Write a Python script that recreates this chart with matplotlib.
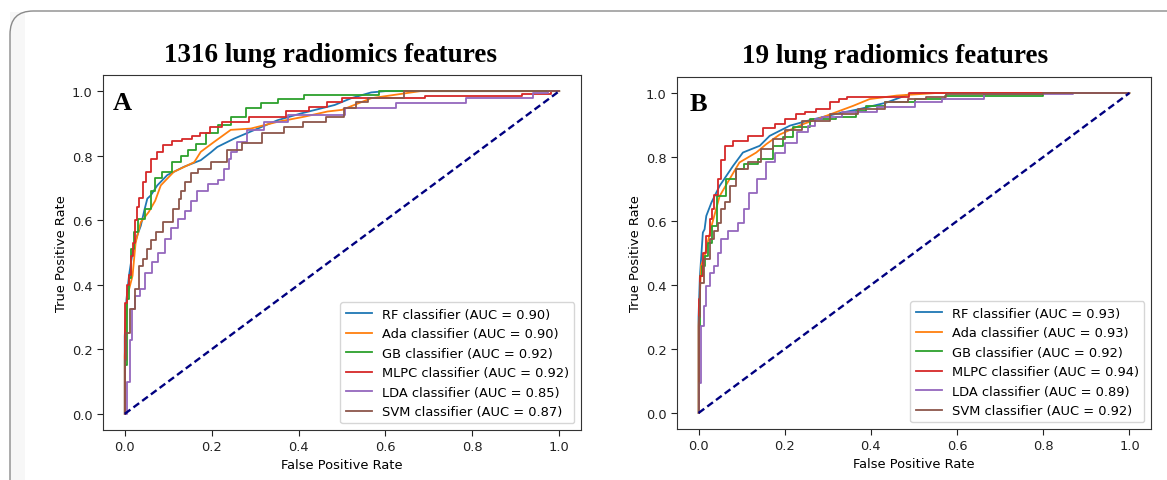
import matplotlib.pyplot as plt
from matplotlib.patches import FancyBboxPatch, Rectangle

plt.rcParams['font.family'] = ['DejaVu Sans']
plt.rcParams['font.size'] = 9.4

names = ['RF', 'Ada', 'GB', 'MLPC', 'LDA', 'SVM']
colors = ['#1f77b4', '#ff7f0e', '#2ca02c', '#d62728', '#9467bd', '#8c564b']
titles = ['1316 lung radiomics features', '19 lung radiomics features']
panel_tags = ['A', 'B']
auc_a = [0.90, 0.90, 0.92, 0.92, 0.85, 0.87]
auc_b = [0.93, 0.93, 0.92, 0.94, 0.89, 0.92]

# ---- 1316 features ----
rf_a_fpr = [0, 0.0, 0.004, 0.01, 0.018, 0.028, 0.037, 0.045, 0.052, 0.06, 0.075, 0.098, 0.137, 0.175,
            0.198, 0.213, 0.252, 0.306, 0.352, 0.406, 0.483, 0.521, 0.567, 0.6, 1.0]
rf_a_tpr = [0, 0.24, 0.355, 0.43, 0.50, 0.55, 0.583, 0.63, 0.667, 0.677, 0.708, 0.74, 0.766, 0.786,
            0.81, 0.827, 0.853, 0.884, 0.91, 0.931, 0.957, 0.978, 0.996, 1.0, 1.0]
ada_a_fpr = [0, 0.0, 0.006, 0.018, 0.025, 0.037, 0.055, 0.07, 0.083, 0.113, 0.16, 0.175, 0.206, 0.244,
             0.29, 0.352, 0.414, 0.467, 0.5, 0.567, 0.68, 1.0]
ada_a_tpr = [0, 0.178, 0.365, 0.428, 0.53, 0.594, 0.625, 0.66, 0.708, 0.75, 0.78, 0.812, 0.843, 0.88,
             0.884, 0.905, 0.921, 0.937, 0.942, 0.978, 1.0, 1.0]
gb_a_fpr = [0, 0.003, 0.008, 0.012, 0.017, 0.025, 0.037, 0.055, 0.065, 0.075, 0.098, 0.121, 0.14, 0.152,
            0.175, 0.198, 0.229, 0.26, 0.298, 0.329, 0.375, 0.452, 0.72, 1.0]
gb_a_tpr = [0, 0.15, 0.355, 0.42, 0.51, 0.563, 0.604, 0.636, 0.69, 0.73, 0.75, 0.78, 0.80, 0.817,
            0.835, 0.869, 0.895, 0.921, 0.947, 0.962, 0.975, 0.987, 1.0, 1.0]
mlpc_a_fpr = [0, 0, 0.003, 0.008, 0.012, 0.016, 0.02, 0.025, 0.03, 0.037, 0.045, 0.055, 0.068, 0.08,
              0.098, 0.12, 0.144, 0.165, 0.183, 0.21, 0.237, 0.336, 0.406, 0.44, 0.49, 0.51, 0.87, 0.96, 1.0]
mlpc_a_tpr = [0, 0.18, 0.345, 0.40, 0.43, 0.49, 0.53, 0.60, 0.64, 0.67, 0.72, 0.75, 0.79, 0.81,
              0.833, 0.845, 0.853, 0.862, 0.869, 0.89, 0.905, 0.921, 0.937, 0.952, 0.967, 0.978, 0.986, 0.99, 1.0]
lda_a_fpr = [0, 0.009, 0.014, 0.018, 0.029, 0.04, 0.055, 0.07, 0.085, 0.1, 0.115, 0.131, 0.145, 0.158,
             0.175, 0.206, 0.221, 0.237, 0.243, 0.248, 0.267, 0.298, 0.344, 0.406, 0.61, 0.64, 0.93, 0.95, 1.0]
lda_a_tpr = [0, 0.1, 0.23, 0.324, 0.365, 0.386, 0.438, 0.47, 0.50, 0.542, 0.575, 0.604, 0.63, 0.66,
             0.69, 0.713, 0.724, 0.76, 0.79, 0.812, 0.843, 0.88, 0.905, 0.926, 0.947, 0.963, 0.978, 0.994, 1.0]
svm_a_fpr = [0, 0.0, 0.008, 0.018, 0.029, 0.037, 0.046, 0.055, 0.066, 0.078, 0.1, 0.122, 0.126, 0.135,
             0.144, 0.16, 0.175, 0.221, 0.252, 0.29, 0.344, 0.39, 0.429, 0.498, 0.513, 0.551, 0.567, 0.72, 1.0]
svm_a_tpr = [0, 0.168, 0.252, 0.324, 0.386, 0.459, 0.48, 0.51, 0.54, 0.563, 0.594, 0.636, 0.667, 0.69,
             0.72, 0.745, 0.76, 0.781, 0.817, 0.838, 0.869, 0.89, 0.905, 0.921, 0.947, 0.967, 0.98, 1.0, 1.0]

# ---- 19 features ----
rf_b_fpr = [0, 0.0, 0.003, 0.01, 0.014, 0.018, 0.03, 0.049, 0.08, 0.103, 0.142, 0.165, 0.212, 0.258,
            0.32, 0.374, 0.436, 0.49, 0.52, 1.0]
rf_b_tpr = [0, 0.3, 0.423, 0.564, 0.574, 0.616, 0.658, 0.71, 0.772, 0.814, 0.835, 0.866, 0.898, 0.915,
            0.935, 0.95, 0.97, 0.997, 1.0, 1.0]
ada_b_fpr = [0, 0.0, 0.006, 0.014, 0.03, 0.049, 0.072, 0.095, 0.134, 0.157, 0.188, 0.243, 0.297, 0.359,
             0.397, 0.46, 0.552, 1.0]
ada_b_tpr = [0, 0.272, 0.46, 0.49, 0.584, 0.678, 0.731, 0.783, 0.814, 0.84, 0.87, 0.903, 0.929, 0.96,
             0.981, 0.992, 1.0, 1.0]
gb_b_fpr = [0, 0.0, 0.003, 0.006, 0.01, 0.018, 0.025, 0.037, 0.049, 0.08, 0.095, 0.118, 0.157, 0.188,
            0.204, 0.235, 0.281, 0.359, 0.374, 0.405, 0.46, 0.545, 0.6, 1.0]
gb_b_tpr = [0, 0.146, 0.272, 0.428, 0.46, 0.49, 0.532, 0.585, 0.678, 0.731, 0.762, 0.778, 0.793, 0.835,
            0.862, 0.893, 0.919, 0.924, 0.945, 0.96, 0.971, 0.981, 0.992, 1.0]
mlpc_b_fpr = [0, 0.0, 0.002, 0.006, 0.014, 0.022, 0.029, 0.033, 0.041, 0.049, 0.057, 0.064, 0.095, 0.134,
              0.165, 0.188, 0.212, 0.238, 0.258, 0.289, 0.32, 0.332, 0.359, 0.62, 1.0]
mlpc_b_tpr = [0, 0.146, 0.355, 0.428, 0.501, 0.553, 0.606, 0.637, 0.68, 0.731, 0.79, 0.835, 0.851, 0.866,
              0.89, 0.903, 0.919, 0.934, 0.94, 0.95, 0.971, 0.981, 0.989, 1.0, 1.0]
lda_b_fpr = [0, 0.003, 0.01, 0.014, 0.022, 0.033, 0.041, 0.049, 0.056, 0.08, 0.103, 0.11, 0.122, 0.15,
             0.165, 0.188, 0.212, 0.243, 0.266, 0.274, 0.297, 0.367, 0.46, 0.545, 0.584, 0.74, 1.0]
lda_b_tpr = [0, 0.094, 0.272, 0.334, 0.397, 0.438, 0.459, 0.501, 0.543, 0.569, 0.595, 0.637, 0.689, 0.731,
             0.783, 0.814, 0.845, 0.877, 0.898, 0.919, 0.925, 0.94, 0.955, 0.971, 0.981, 0.997, 1.0]
svm_b_fpr = [0, 0.003, 0.006, 0.018, 0.033, 0.041, 0.049, 0.057, 0.064, 0.08, 0.095, 0.134, 0.157, 0.188,
             0.212, 0.266, 0.343, 0.397, 0.467, 0.506, 0.55, 0.6, 1.0]
svm_b_tpr = [0, 0.3, 0.407, 0.48, 0.543, 0.57, 0.595, 0.637, 0.66, 0.71, 0.762, 0.783, 0.824, 0.856,
             0.883, 0.914, 0.934, 0.95, 0.971, 0.981, 0.989, 0.997, 1.0]

curves_a = [(rf_a_fpr, rf_a_tpr), (ada_a_fpr, ada_a_tpr), (gb_a_fpr, gb_a_tpr),
            (mlpc_a_fpr, mlpc_a_tpr), (lda_a_fpr, lda_a_tpr), (svm_a_fpr, svm_a_tpr)]
curves_b = [(rf_b_fpr, rf_b_tpr), (ada_b_fpr, ada_b_tpr), (gb_b_fpr, gb_b_tpr),
            (mlpc_b_fpr, mlpc_b_tpr), (lda_b_fpr, lda_b_tpr), (svm_b_fpr, svm_b_tpr)]
# tree ensembles give many tied scores -> smoother curves, the rest are stepped
styles = ['default', 'default', 'steps-mid', 'steps-mid', 'steps-mid', 'steps-mid']

W, H = 1167, 481
fig = plt.figure(figsize=(W / 100, H / 100), dpi=100)

# page frame around the figure
fig.patches.append(Rectangle((10 / W, 0), 15 / W, 1 - 13 / H, transform=fig.transFigure,
                             facecolor='#f7f7f7', edgecolor='none', zorder=0))
fig.patches.append(FancyBboxPatch((10 / W, -0.05), 1.2, 1 - 12 / H + 0.05,
                                  boxstyle='round,pad=0,rounding_size=0.02',
                                  mutation_aspect=W / H, transform=fig.transFigure,
                                  facecolor='none', edgecolor='#8a8a8a', lw=1.0, zorder=1))

axes_boxes = [(103, 76, 581, 431), (677, 78, 1151, 430)]
title_pos = [(330, 56), (895, 57)]
tag_pos = [(0.021, 0.955), (0.027, 0.957)]

for k, (curves, aucs) in enumerate([(curves_a, auc_a), (curves_b, auc_b)]):
    x0, y0, x1, y1 = axes_boxes[k]
    ax = fig.add_axes([x0 / W, 1 - y1 / H, (x1 - x0) / W, (y1 - y0) / H])
    for (fpr, tpr), name, c, auc, ds in zip(curves, names, colors, aucs, styles):
        ax.plot(fpr, tpr, color=c, lw=1.3, drawstyle=ds,
                label=f'{name} classifier (AUC = {auc:.2f})')
    ax.plot([0, 1], [0, 1], color='navy', lw=1.7, linestyle=(0, (3, 1.6)))
    ax.set_xlim(-0.05, 1.05)
    ax.set_ylim(-0.05, 1.05)
    ax.set_xticks([0, 0.2, 0.4, 0.6, 0.8, 1.0])
    ax.set_yticks([0, 0.2, 0.4, 0.6, 0.8, 1.0])
    ax.set_xlabel('False Positive Rate', labelpad=3)
    ax.set_ylabel('True Positive Rate', labelpad=3)
    for s in ax.spines.values():
        s.set_color('#333333')
    ax.tick_params(colors='#222222', length=4)
    ax.legend(loc='lower right', handlelength=2.0, borderaxespad=0.5)
    ax.text(tag_pos[k][0], tag_pos[k][1], panel_tags[k], transform=ax.transAxes,
            family='Liberation Serif', fontweight='bold', fontsize=19, va='top', ha='left')
    fig.text(title_pos[k][0] / W, 1 - title_pos[k][1] / H, titles[k], family='Liberation Serif',
             fontweight='bold', fontsize=19.5, ha='center', va='center')

fig.savefig('out.png', dpi=100)
